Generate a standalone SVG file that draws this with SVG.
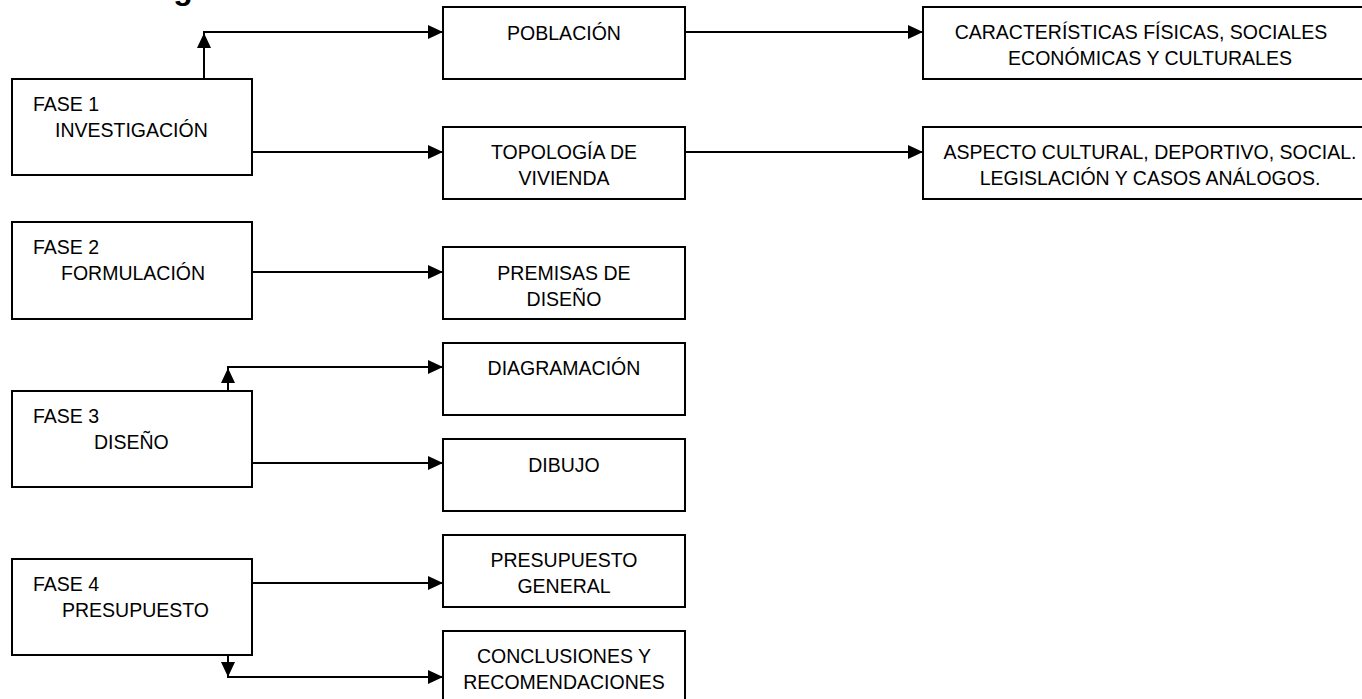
<svg xmlns="http://www.w3.org/2000/svg" width="1362" height="699" viewBox="0 0 1362 699">
<style>
  .box{fill:#fff;stroke:#000;stroke-width:2}
  .t{font-family:"Liberation Sans",Arial,sans-serif;font-size:19.5px;fill:#000}
  .c{text-anchor:middle}
  .ln{fill:none;stroke:#000;stroke-width:2}
  .title{font-family:"Liberation Sans",Arial,sans-serif;font-size:32px;font-weight:bold;fill:#000}
</style>
<defs>
  <marker id="ah" markerUnits="userSpaceOnUse" markerWidth="16" markerHeight="14" refX="15" refY="7" orient="auto">
    <path d="M0,0 L15,7 L0,14 z" fill="#000"/>
  </marker>
</defs>
<rect width="1362" height="699" fill="#fff"/>
<text class="title" x="31" y="-1.5">Metodología</text>

<g id="fase1"><rect class="box" x="12" y="79" width="240" height="96"/>
  <text class="t" x="33" y="111">FASE 1</text><text class="t" x="55" y="137">INVESTIGACIÓN</text></g>
<g id="fase2"><rect class="box" x="12" y="222" width="240" height="97"/>
  <text class="t" x="33" y="254">FASE 2</text><text class="t" x="61" y="280">FORMULACIÓN</text></g>
<g id="fase3"><rect class="box" x="12" y="391" width="240" height="96"/>
  <text class="t" x="33" y="423">FASE 3</text><text class="t" x="94" y="449">DISEÑO</text></g>
<g id="fase4"><rect class="box" x="12" y="559" width="240" height="96"/>
  <text class="t" x="33" y="591">FASE 4</text><text class="t" x="62" y="617">PRESUPUESTO</text></g>

<g id="poblacion"><rect class="box" x="443" y="7" width="242" height="72"/>
  <text class="t c" x="564" y="40">POBLACIÓN</text></g>
<g id="topologia"><rect class="box" x="443" y="127" width="242" height="72"/>
  <text class="t c" x="564" y="159">TOPOLOGÍA DE</text><text class="t c" x="564" y="185">VIVIENDA</text></g>
<g id="premisas"><rect class="box" x="443" y="247" width="242" height="72"/>
  <text class="t c" x="564" y="280">PREMISAS DE</text><text class="t c" x="564" y="306">DISEÑO</text></g>
<g id="diagramacion"><rect class="box" x="443" y="343" width="242" height="72"/>
  <text class="t c" x="564" y="375">DIAGRAMACIÓN</text></g>
<g id="dibujo"><rect class="box" x="443" y="439" width="242" height="72"/>
  <text class="t c" x="564" y="472">DIBUJO</text></g>
<g id="presupuesto-general"><rect class="box" x="443" y="535" width="242" height="72"/>
  <text class="t c" x="564" y="567">PRESUPUESTO</text><text class="t c" x="564" y="593">GENERAL</text></g>
<g id="conclusiones"><rect class="box" x="443" y="631" width="242" height="72"/>
  <text class="t c" x="564" y="663">CONCLUSIONES Y</text><text class="t c" x="564" y="689">RECOMENDACIONES</text></g>

<g id="caracteristicas"><rect class="box" x="923" y="7" width="457" height="72"/>
  <text class="t c" x="1141" y="39">CARACTERÍSTICAS FÍSICAS, SOCIALES</text><text class="t c" x="1150" y="65">ECONÓMICAS Y CULTURALES</text></g>
<g id="aspecto"><rect class="box" x="923" y="127" width="457" height="72"/>
  <text class="t c" x="1150" y="159">ASPECTO CULTURAL, DEPORTIVO, SOCIAL.</text><text class="t c" x="1150" y="185">LEGISLACIÓN Y CASOS ANÁLOGOS.</text></g>

<g id="connectors">
  <path class="ln" d="M204,79 V33" marker-end="url(#ah)"/>
  <path class="ln" d="M203,32 H443" marker-end="url(#ah)"/>
  <path class="ln" d="M252,152 H443" marker-end="url(#ah)"/>
  <path class="ln" d="M685,32 H923" marker-end="url(#ah)"/>
  <path class="ln" d="M685,152 H923" marker-end="url(#ah)"/>
  <path class="ln" d="M252,272 H443" marker-end="url(#ah)"/>
  <path class="ln" d="M228,391 V368" marker-end="url(#ah)"/>
  <path class="ln" d="M227,367 H443" marker-end="url(#ah)"/>
  <path class="ln" d="M252,463 H443" marker-end="url(#ah)"/>
  <path class="ln" d="M252,583 H443" marker-end="url(#ah)"/>
  <path class="ln" d="M228,655 V677" marker-end="url(#ah)"/>
  <path class="ln" d="M227,677 H443" marker-end="url(#ah)"/>
</g>
</svg>
